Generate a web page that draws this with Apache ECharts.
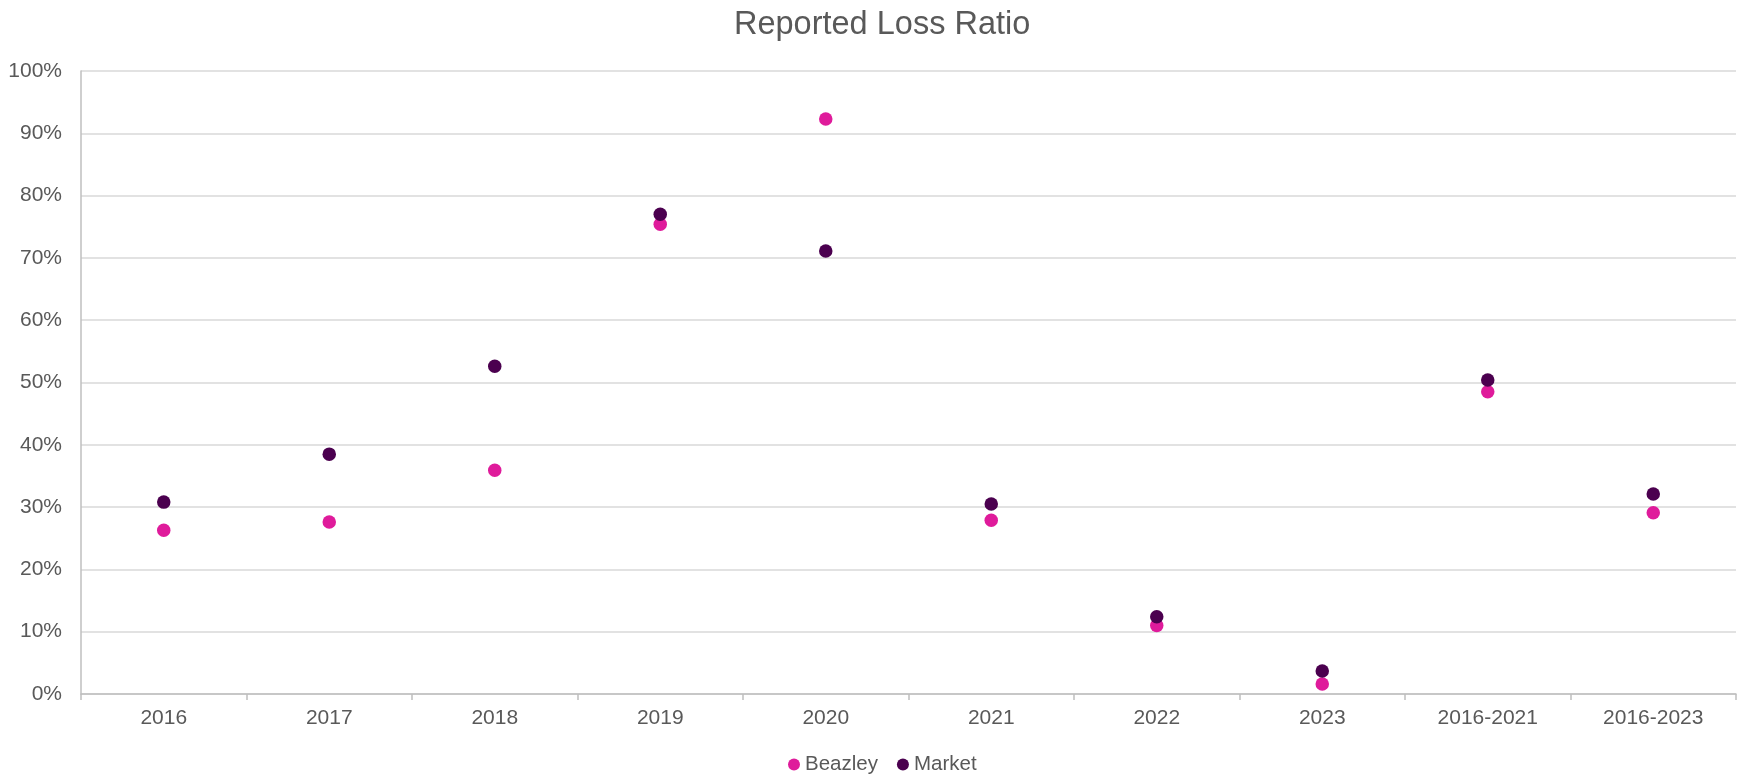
<!DOCTYPE html>
<html>
<head>
<meta charset="utf-8">
<script src="https://cdn.jsdelivr.net/npm/echarts@6/dist/echarts.min.js"></script>
<style>
html,body{margin:0;padding:0;background:#fff;}
#chart{width:1742px;height:779px;}
</style>
</head>
<body>
<div id="chart"></div>
<script>
const categories = ['2016','2017','2018','2019','2020','2021','2022','2023','2016-2021','2016-2023'];
const beazley = [26.3, 27.6, 35.9, 75.4, 92.3, 27.9, 11.0, 1.6, 48.5, 29.1];
const market  = [30.8, 38.5, 52.6, 77.0, 71.1, 30.5, 12.4, 3.7, 50.4, 32.1];
const yTicks = {min: 0, max: 100, interval: 10};

const FONT = '"Liberation Sans", Arial, sans-serif';
const TEXT = '#595959';

const chart = echarts.init(document.getElementById('chart'), null, {renderer: 'canvas'});
chart.setOption({
  animation: false,
  backgroundColor: '#ffffff',
  title: {
    text: 'Reported Loss Ratio',
    left: 729,
    top: 4,
    textStyle: {fontFamily: FONT, fontSize: 32.5, fontWeight: 'normal', color: TEXT}
  },
  legend: {
    left: 783,
    top: 749,
    icon: 'circle',
    itemWidth: 12,
    itemHeight: 12,
    itemGap: 19,
    textStyle: {fontFamily: FONT, fontSize: 20.5, color: TEXT},
    data: ['Beazley', 'Market']
  },
  grid: {left: 81, right: 6, top: 71, bottom: 85, containLabel: false},
  xAxis: {
    type: 'category',
    data: categories,
    boundaryGap: true,
    axisLine: {show: true, lineStyle: {color: '#BFBFBF', width: 1.5}},
    axisTick: {show: true, length: 6, lineStyle: {color: '#BFBFBF', width: 1.5}},
    axisLabel: {fontFamily: FONT, fontSize: 21, color: TEXT, margin: 14},
    splitLine: {show: false}
  },
  yAxis: {
    type: 'value',
    min: yTicks.min,
    max: yTicks.max,
    interval: yTicks.interval,
    axisLine: {show: true, lineStyle: {color: '#BFBFBF', width: 1.5}},
    axisTick: {show: false},
    axisLabel: {fontFamily: FONT, fontSize: 21, color: TEXT, margin: 19, formatter: '{value}%'},
    splitLine: {show: true, lineStyle: {color: '#D9D9D9', width: 1.5}}
  },
  series: [
    {
      name: 'Beazley',
      type: 'scatter',
      data: beazley,
      symbol: 'circle',
      symbolSize: 13.5,
      itemStyle: {color: '#DF1B9B', opacity: 1},
      z: 2
    },
    {
      name: 'Market',
      type: 'scatter',
      data: market,
      symbol: 'circle',
      symbolSize: 13.5,
      itemStyle: {color: '#4B004F', opacity: 1},
      z: 3
    }
  ]
});
</script>
</body>
</html>
